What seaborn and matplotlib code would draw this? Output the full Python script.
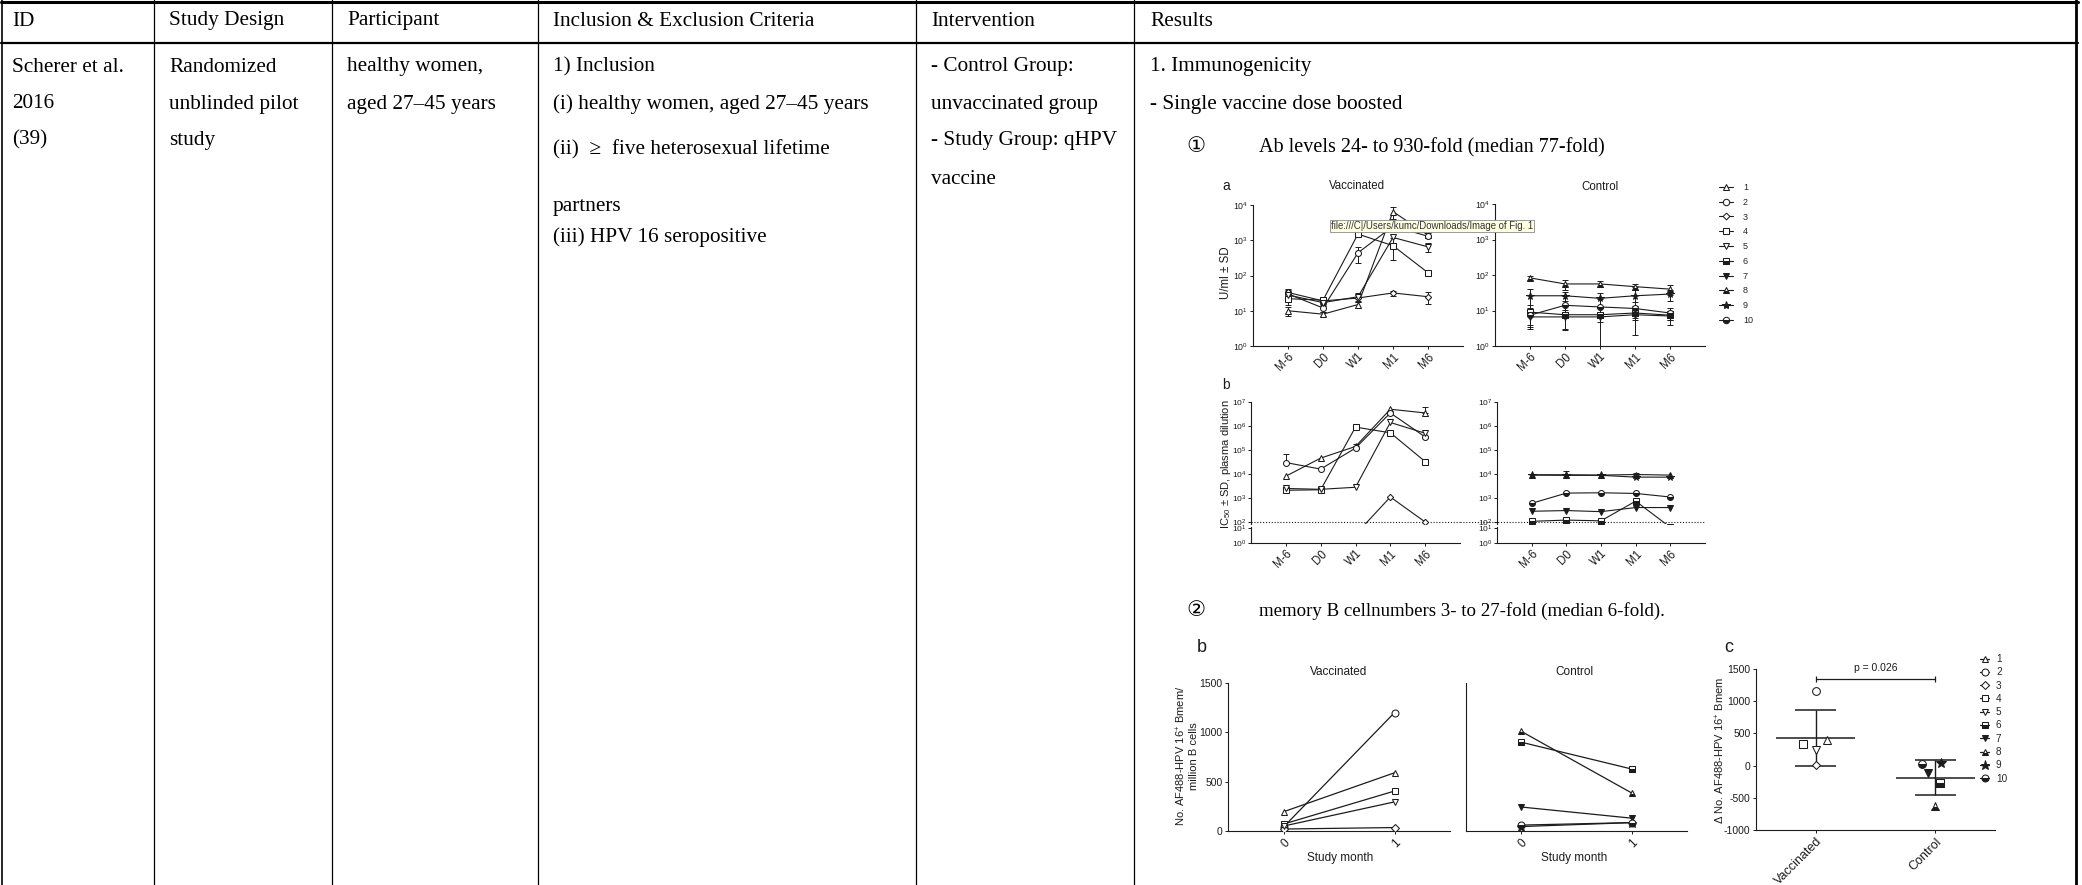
import numpy as np
import pandas as pd
import matplotlib
matplotlib.use("Agg")
import matplotlib.pyplot as plt
from matplotlib.lines import Line2D
from matplotlib.ticker import NullLocator
import seaborn as sns

# ------------------------------------------------------------------ data
timepoints = ["M-6", "D0", "W1", "M1", "M6"]
participants = ["1", "2", "3", "4", "5", "6", "7", "8", "9", "10"]
vaccinated_ids = ["1", "2", "3", "4", "5"]
control_ids = ["6", "7", "8", "9", "10"]

# a: anti-HPV16 antibody, U/ml (rows = participants, columns = timepoints)
ab_vaccinated = [
    [10, 8, 15, 6500, 1400],
    [30, 12, 440, 2500, 1300],
    [33, 19, 23, 32, 25],
    [22, 20, 1500, 700, 120],
    [28, 17, 25, 1200, 650],
]
ab_vaccinated_sd = [
    [3, 1, 3, 2500, 200],
    [8, 3, 220, 0, 0],
    [9, 3, 5, 5, 9],
    [7, 4, 0, 425, 0],
    [8, 3, 6, 0, 180],
]
ab_control = [
    [9, 7.6, 7.6, 8.5, 7.4],
    [6.6, 6.6, 6.6, 7.6, 7.0],
    [83, 56, 56, 47, 40],
    [26, 26, 22, 26, 29],
    [7.4, 14, 12.6, 11.4, 8.5],
]
ab_control_sd = [
    [5, 1.5, 1.5, 1.5, 2],
    [3.5, 3.8, 5.6, 5.6, 3],
    [12, 18, 10, 8, 12],
    [15, 8, 10, 20, 10],
    [4, 11, 8, 6, 3],
]
# b: neutralisation IC50, plasma dilution (upper SD only)
ic50_vaccinated = [
    [8100, 46000, 140000, 5.0e6, 3.5e6],
    [30000, 16000, 120000, 3.5e6, 3.5e5],
    [30, 30, 30, 1100, 100],
    [2100, 2200, 9.0e5, 5.2e5, 3.3e4],
    [2500, 2300, 2800, 1.4e6, 5.0e5],
]
ic50_vaccinated_sd = [
    [0, 0, 40000, 0, 2.8e6],
    [38000, 0, 0, 0, 0],
    [0, 0, 0, 0, 0],
    [0, 0, 0, 0, 0],
    [0, 0, 0, 0, 0],
]
ic50_control = [
    [107, 120, 112, 740, 60],
    [280, 300, 270, 400, 400],
    [9300, 9300, 9000, 9500, 9000],
    [9000, 8800, 8800, 7400, 7400],
    [600, 1600, 1650, 1550, 1100],
]
ic50_control_sd = [
    [0, 0, 0, 0, 0],
    [0, 0, 0, 0, 0],
    [0, 4000, 0, 1500, 0],
    [0, 0, 0, 0, 0],
    [0, 0, 0, 0, 0],
]
# memory B cells per million B cells, study month 0 and 1 (participants 1-10)
study_months = ["0", "1"]
bmem_month0 = [195, 40, 20, 70, 50, 900, 243, 1010, 45, 60]
bmem_month1 = [590, 1200, 35, 405, 295, 628, 130, 385, 85, 85]
groups = ["Vaccinated", "Control"]
p_label = "p = 0.026"

# table text
header_cols = ["ID", "Study Design", "Participant", "Inclusion & Exclusion Criteria",
               "Intervention", "Results"]
col_id = ["Scherer et al.", "2016", "(39)"]
col_design = ["Randomized", "unblinded pilot", "study"]
col_participant = ["healthy women,", "aged 27\u201345 years"]
col_inclusion = ["1) Inclusion", "(i) healthy women, aged 27\u201345 years",
                 "(ii)  \u2265  five heterosexual lifetime", "partners",
                 "(iii) HPV 16 seropositive"]
col_intervention = ["- Control Group:", "unvaccinated group", "- Study Group: qHPV", "vaccine"]
col_results = ["1. Immunogenicity", "- Single vaccine dose boosted"]
result_item1 = ("\u2460", "Ab levels 24- to 930-fold (median 77-fold)")
result_item2 = ("\u2461", "memory B cellnumbers 3- to 27-fold (median 6-fold).")
tooltip = "file:///C|/Users/kumc/Downloads/Image of Fig. 1"

# ------------------------------------------------------------------ style
sns.set_style("ticks")
plt.rcParams["font.family"] = ["Liberation Sans", "DejaVu Sans"]
plt.rcParams["mathtext.fontset"] = "custom"
plt.rcParams["mathtext.rm"] = "Liberation Sans"
plt.rcParams["mathtext.it"] = "Liberation Sans:italic"
plt.rcParams["mathtext.bf"] = "Liberation Sans:bold"
plt.rcParams["axes.unicode_minus"] = False
INK = "#1c1c1c"
SERIF = ["Liberation Serif", "DejaVu Serif", "DejaVu Sans"]

W, H = 2082, 885
fig = plt.figure(figsize=(W / 100, H / 100), dpi=100)
fig.patch.set_facecolor("white")


def add_ax(x0, y0, x1, y1):
    return fig.add_axes([x0 / W, 1 - y1 / H, (x1 - x0) / W, (y1 - y0) / H])


def ftext(x, y, s, **kw):
    kw.setdefault("va", "center")
    kw.setdefault("ha", "left")
    kw.setdefault("color", INK)
    return fig.text(x / W, 1 - y / H, s, **kw)


def fline(x0, y0, x1, y1, lw):
    fig.add_artist(Line2D([x0 / W, x1 / W], [1 - y0 / H, 1 - y1 / H],
                          transform=fig.transFigure, color="black", lw=lw))


MARKERS = {
    "1": ("^", "open"), "2": ("o", "open"), "3": ("D", "open"), "4": ("s", "open"),
    "5": ("v", "open"), "6": ("s", "half"), "7": ("v", "full"), "8": ("^", "half"),
    "9": ("*", "full"), "10": ("o", "half"),
}


def mkw(pid, ms):
    m, kind = MARKERS[pid]
    size = ms * (0.75 if m == "D" else 1.3 if m == "*" else 1.0)
    kw = dict(marker=m, markersize=size, markeredgecolor=INK, markeredgewidth=0.75)
    if kind == "open":
        kw.update(markerfacecolor="white", fillstyle="full")
    elif kind == "full":
        kw.update(markerfacecolor=INK, fillstyle="full")
    else:
        kw.update(markerfacecolor=INK, markerfacecoloralt="white", fillstyle="bottom")
    return kw


def style_ax(ax, ysize=6.3, xsize=8.3, pad=1.0):
    sns.despine(ax=ax)
    for sp in ("left", "bottom"):
        ax.spines[sp].set_linewidth(0.8)
        ax.spines[sp].set_color(INK)
    ax.tick_params(length=2.5, width=0.7, colors=INK, pad=pad)
    ax.tick_params(axis="y", labelsize=ysize)
    ax.tick_params(axis="x", labelsize=xsize)
    ax.set_xlabel("")
    ax.set_ylabel("")
    ax.set_facecolor("none")


def draw_series(ax, values, sds, ids, ms, upper_only=False):
    x = np.arange(len(timepoints))
    for row, sd, pid in zip(values, sds, ids):
        y = np.asarray(row, float)
        s = np.asarray(sd, float)
        keep = s > 0
        if keep.any():
            err = np.vstack([np.zeros(keep.sum()), s[keep]]) if upper_only else s[keep]
            ax.errorbar(x[keep], y[keep], yerr=err, fmt="none", ecolor=INK,
                        elinewidth=0.7, capsize=2, capthick=0.7, zorder=2)
        df = pd.DataFrame({"t": x, "v": y})
        sns.lineplot(data=df, x="t", y="v", ax=ax, color=INK, linewidth=0.8,
                     errorbar=None, legend=False, sort=False, zorder=3, **mkw(pid, ms))


def decade_axis(ax, decades):
    ax.set_yticks([10.0 ** d for d in decades])
    ax.set_yticklabels([r"$10^{%d}$" % d for d in decades])
    ax.yaxis.set_minor_locator(NullLocator())


def time_xaxis(ax):
    ax.set_xlim(-1, len(timepoints))
    ax.set_xticks(np.arange(len(timepoints)))
    ax.set_xticklabels(timepoints, rotation=45, ha="right", rotation_mode="anchor")


# ------------------------------------------------------------------ table
fline(1, 1.5, 2078, 1.5, 2.2)
fline(1, 43, 2078, 43, 1.6)
fline(2, 0, 2, H, 1.2)
fline(2076, 0, 2076, H, 2.0)
col_lines = [154, 332, 538, 916, 1134]
for cx in col_lines:
    fline(cx, 0, cx, H, 0.9)

col_text_x = [12, 169, 347, 553, 931, 1150]
TS = 15.3
DY = 3
for cx, s in zip(col_text_x, header_cols):
    ftext(cx, 18 + DY, s, fontsize=TS, family=SERIF, color="black")
row_y = [64 + DY, 101 + DY, 137 + DY]
for s, y in zip(col_id, row_y):
    ftext(col_text_x[0], y, s, fontsize=TS, family=SERIF, color="black")
for s, y in zip(col_design, row_y):
    ftext(col_text_x[1], y, s, fontsize=TS, family=SERIF, color="black")
for s, y in zip(col_participant, row_y):
    ftext(col_text_x[2], y, s, fontsize=TS, family=SERIF, color="black")
for s, y in zip(col_inclusion, [64, 101, 147, 203, 234]):
    ftext(col_text_x[3], y + DY, s, fontsize=TS, family=SERIF, color="black")
for s, y in zip(col_intervention, [64, 101, 137, 177]):
    ftext(col_text_x[4], y + DY, s, fontsize=TS, family=SERIF, color="black")
for s, y in zip(col_results, [64, 101]):
    ftext(col_text_x[5], y + DY, s, fontsize=TS, family=SERIF, color="black")
ftext(1186, 148, result_item1[0], fontsize=TS, family=SERIF, color="black")
ftext(1259, 148, result_item1[1], fontsize=14.5, family=SERIF, color="black")
ftext(1186, 611, result_item2[0], fontsize=TS, family=SERIF, color="black")
ftext(1259, 611, result_item2[1], fontsize=13.6, family=SERIF, color="black")

# ------------------------------------------------------------------ panel a (U/ml)
ax_av = add_ax(1253, 205, 1463, 346)
ax_ac = add_ax(1495, 204, 1705, 346)
for ax, vals, sds, ids in [(ax_av, ab_vaccinated, ab_vaccinated_sd, vaccinated_ids),
                           (ax_ac, ab_control, ab_control_sd, control_ids)]:
    ax.set_yscale("log")
    draw_series(ax, vals, sds, ids, ms=4.3)
    ax.set_ylim(1, 1e4)
    decade_axis(ax, range(0, 5))
    time_xaxis(ax)
    style_ax(ax)
ftext(1222, 186, "a", fontsize=10)
ftext(1357, 186, groups[0], fontsize=8.3, ha="center")
ftext(1600, 187, groups[1], fontsize=8.3, ha="center")
ftext(1226, 273, "U/ml \u00b1 SD", fontsize=8.3, rotation=90, ha="center")

# tooltip artefact of the screenshot
ftext(1331, 226, tooltip, fontsize=6.9, color="#333333",
      bbox=dict(boxstyle="square,pad=0.12", facecolor="#ffffe1", edgecolor="#8a8a8a", lw=0.6))

leg_handles = [Line2D([], [], color=INK, lw=0.8, **mkw(p, 4.6)) for p in participants]
fig.legend(leg_handles, participants, loc="upper left", bbox_to_anchor=(1719 / W, 1 - 183 / H),
           frameon=False, fontsize=6.5, handlelength=1.55, handletextpad=1.1,
           labelspacing=0.64, borderpad=0, borderaxespad=0)

# ------------------------------------------------------------------ panel b (IC50, broken axis)
dec_px = 24.0
for (x0, x1, vals, sds, ids, line_from) in [
        (1251, 1460, ic50_vaccinated, ic50_vaccinated_sd, vaccinated_ids, 0.0),
        (1497, 1705, ic50_control, ic50_control_sd, control_ids, -0.18)]:
    up = add_ax(x0, 402, x1, 524)
    lo = add_ax(x0, 527, x1, 543)
    up.set_yscale("log")
    draw_series(up, vals, sds, ids, ms=4.3, upper_only=True)
    up.set_ylim(10 ** (2 - 2 / dec_px), 1e7)
    decade_axis(up, range(2, 8))
    up.set_xlim(-1, len(timepoints))
    up.set_xticks([])
    style_ax(up, ysize=6.0)
    up.spines["bottom"].set_visible(False)
    up.axhline(100, xmin=line_from, xmax=1, ls=(0, (1, 1.6)), lw=0.8, color=INK,
               clip_on=False, zorder=1)
    lo.set_yscale("log")
    lo.set_ylim(1, 10 ** (16 / 15))
    decade_axis(lo, range(0, 2))
    time_xaxis(lo)
    style_ax(lo, ysize=6.0)
ftext(1222, 385, "b", fontsize=10)
ftext(1226, 464, r"IC$_{50}$ $\pm$ SD, plasma dilution", fontsize=8.0, rotation=90, ha="center")

# ------------------------------------------------------------------ bottom b (memory B cells)
bmem = pd.DataFrame({
    "participant": participants * 2,
    "month": np.repeat(np.arange(len(study_months)), len(participants)),
    "count": bmem_month0 + bmem_month1,
})
ax_bv = add_ax(1228, 683, 1450, 831)
ax_bc = add_ax(1466, 683, 1687, 831)
for ax, ids in [(ax_bv, vaccinated_ids), (ax_bc, control_ids)]:
    for pid in ids:
        sub = bmem[bmem["participant"] == pid]
        sns.lineplot(data=sub, x="month", y="count", ax=ax, color=INK, linewidth=0.9,
                     errorbar=None, legend=False, zorder=3, **mkw(pid, 5.0))
    ax.set_xlim(-0.5, len(study_months) - 0.5)
    ax.set_ylim(0, 1500)
    ax.set_xticks(np.arange(len(study_months)))
    ax.set_xticklabels(study_months, rotation=45, ha="right", rotation_mode="anchor")
    style_ax(ax, ysize=7.5, xsize=8.5, pad=1.5)
ax_bv.set_yticks([0, 500, 1000, 1500])
ax_bc.set_yticks([])
ftext(1197, 647, "b", fontsize=13)
ftext(1339, 672, groups[0], fontsize=8.5, ha="center")
ftext(1574, 672, groups[1], fontsize=8.5, ha="center")
ftext(1340, 858, "Study month", fontsize=8.5, ha="center")
ftext(1574, 858, "Study month", fontsize=8.5, ha="center")
ftext(1187, 756, "No. AF488-HPV 16$^{+}$ Bmem/\nmillion B cells", fontsize=8.0,
      rotation=90, ha="center", multialignment="center", linespacing=1.05)

# ------------------------------------------------------------------ panel c (change in Bmem)
delta = np.asarray(bmem_month1, float) - np.asarray(bmem_month0, float)
group_of = [0] * len(vaccinated_ids) + [1] * len(control_ids)
c_jitter = [0.09, 0.0, 0.0, -0.11, 0.0, 0.04, -0.06, 0.0, 0.05, -0.11]
ax_c = add_ax(1756, 669, 1995, 830)
for g in range(len(groups)):
    vals = delta[np.asarray(group_of) == g]
    m, s = vals.mean(), vals.std(ddof=1)
    ax_c.hlines(m, g - 0.33, g + 0.33, color=INK, lw=1.1, zorder=2)
    ax_c.hlines([m - s, m + s], g - 0.17, g + 0.17, color=INK, lw=1.1, zorder=2)
    ax_c.vlines(g, m - s, m + s, color=INK, lw=1.0, zorder=2)
for pid, g, dx, v in zip(participants, group_of, c_jitter, delta):
    ax_c.plot([g + dx], [v], linestyle="none", zorder=3, **mkw(pid, 5.6))
ax_c.plot([0, 1], [1345, 1345], color=INK, lw=0.9, marker="|", markersize=5, mew=0.9,
          clip_on=False)
ax_c.text(0.5, 1515, p_label, ha="center", va="center", fontsize=7.5, color=INK, clip_on=False)
ax_c.set_xlim(-0.5, len(groups) - 0.5)
ax_c.set_ylim(-1000, 1500)
ax_c.set_yticks([-1000, -500, 0, 500, 1000, 1500])
ax_c.set_xticks(np.arange(len(groups)))
ax_c.set_xticklabels(groups, rotation=45, ha="right", rotation_mode="anchor")
style_ax(ax_c, ysize=7.5, xsize=9.0, pad=1.5)
ftext(1724, 648, "c", fontsize=13)
ftext(1720, 750, "\u0394 No. AF488-HPV 16$^{+}$ Bmem", fontsize=8.0, rotation=90, ha="center")

c_handles = [Line2D([], [], color=INK, lw=0.9, **mkw(p, 5.0)) for p in participants]
fig.legend(c_handles, participants, loc="upper left", bbox_to_anchor=(1980 / W, 1 - 654 / H),
           frameon=False, fontsize=7.2, handlelength=0.9, handletextpad=0.7,
           labelspacing=0.33, borderpad=0, borderaxespad=0)

fig.savefig("out.png", dpi=100, facecolor="white")
